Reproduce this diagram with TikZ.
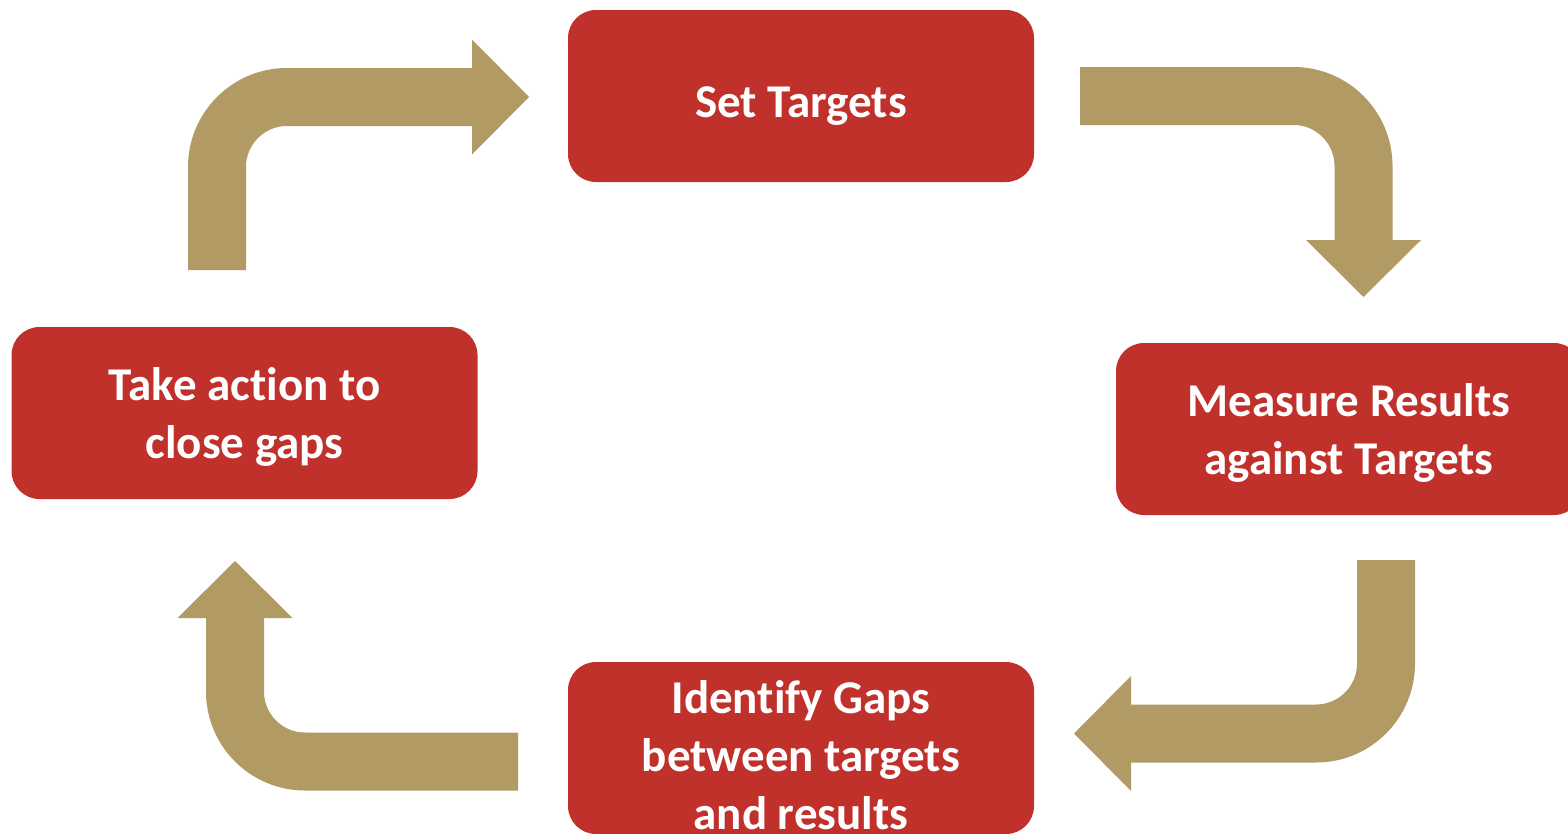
\documentclass[tikz,border=0pt]{standalone}
\usepackage{fontspec}
\setmainfont{Carlito}[Ligatures=NoCommon]
\usetikzlibrary{arrows.meta}
\definecolor{boxred}{HTML}{C0312C}
\definecolor{arrowtan}{HTML}{B19A64}

\begin{document}
\begin{tikzpicture}[x=1pt, y=-1pt,
	stepbox/.style={fill=boxred, rounded corners=28pt, minimum width=466pt, minimum height=172pt, inner sep=0pt, text depth=0pt, align=center, text=white, font=\bfseries\fontsize{47}{58}\selectfont},
	flow/.style={draw=arrowtan, line width=58pt, rounded corners=70pt, -{Triangle[length=57pt, width=115pt, line width=0pt]}}]
	\useasboundingbox (0,0) rectangle (1568,833);

	\node[stepbox, text height=42pt] (set) at (801,96) {Set Targets};
	\node[stepbox] (measure) at (1349,429) {Measure Results\\against Targets};
	\node[stepbox, text height=162pt] (gaps) at (801,748) {Identify Gaps\\between targets\\and results};
	\node[stepbox] (act) at (244.5,413) {Take action to\\close gaps};

	\coordinate (a1s) at (217,270);
	\coordinate (a1c) at (217,97);
	\coordinate (a1e) at (529,97);
	\coordinate (a2s) at (1080,96);
	\coordinate (a2c) at (1363.5,96);
	\coordinate (a2e) at (1363.5,297);
	\coordinate (a3s) at (1386,560);
	\coordinate (a3c) at (1386,733.5);
	\coordinate (a3e) at (1074,733.5);
	\coordinate (a4s) at (518,761.5);
	\coordinate (a4c) at (235,761.5);
	\coordinate (a4e) at (235,561);

	\draw[flow] (a1s) -- (a1c) -- (a1e);
	\draw[flow] (a2s) -- (a2c) -- (a2e);
	\draw[flow] (a3s) -- (a3c) -- (a3e);
	\draw[flow] (a4s) -- (a4c) -- (a4e);

\end{tikzpicture}
\end{document}
